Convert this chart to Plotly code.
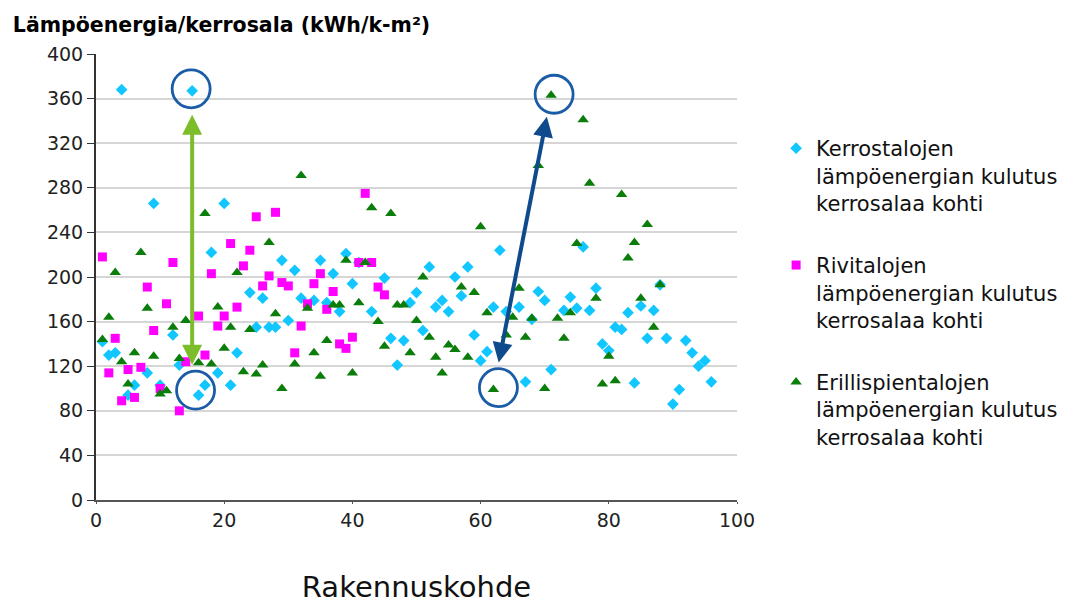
import plotly.graph_objects as go

# ---- data (building index -> heat energy per floor area, kWh/k-m2) ----
x_kerros = [1, 2, 3, 4, 5, 6, 8, 9, 10, 12, 13, 15, 16, 17, 18, 19, 20, 21, 22, 24,
            25, 26, 27, 28, 29, 30, 31, 32, 34, 35, 36, 37, 38, 39, 40, 41, 43, 45, 46, 47,
            48, 49, 50, 51, 52, 53, 54, 55, 56, 57, 58, 59, 60, 61, 62, 63, 64, 66, 67, 68,
            69, 70, 71, 73, 74, 75, 76, 77, 78, 79, 80, 81, 82, 83, 84, 85, 86, 87, 88, 89,
            90, 91, 92, 93, 94, 95, 96]
y_kerros = [142, 130, 132, 368, 94, 103, 114, 266, 103, 148, 121, 367, 94, 103, 222, 114, 266, 103, 132, 186,
            155, 181, 155, 155, 215, 161, 206, 181, 179, 215, 177, 203, 169, 221, 194, 213, 169, 199, 145, 121,
            143, 177, 186, 152, 209, 173, 179, 169, 200, 183, 209, 148, 125, 133, 173, 224, 169, 173, 106, 162,
            187, 179, 117, 170, 182, 172, 227, 170, 190, 140, 134, 155, 153, 168, 105, 174, 145, 170, 193, 145,
            86, 99, 143, 132, 120, 125, 106]

x_rivi = [1, 2, 3, 4, 5, 6, 7, 8, 9, 10, 11, 12, 13, 14, 16, 17, 18, 19, 20, 21,
          22, 23, 24, 25, 26, 27, 28, 29, 30, 31, 32, 33, 34, 35, 36, 37, 38, 39, 40, 41,
          42, 43, 44, 45]
y_rivi = [218, 114, 145, 89, 117, 92, 119, 191, 152, 100, 176, 213, 80, 124, 165, 130, 203, 156, 165, 230,
          173, 210, 224, 254, 192, 201, 258, 195, 192, 132, 156, 176, 194, 203, 171, 187, 140, 136, 146, 213,
          275, 213, 191, 184]

x_erillis = [1, 2, 3, 4, 5, 6, 7, 8, 9, 10, 11, 12, 13, 14, 16, 17, 18, 19, 20, 21,
             22, 23, 24, 25, 26, 27, 28, 29, 31, 32, 33, 34, 35, 36, 37, 38, 39, 40, 41, 42,
             43, 44, 45, 46, 47, 48, 49, 50, 51, 52, 53, 54, 55, 56, 57, 58, 59, 60, 61, 62,
             64, 65, 66, 67, 68, 69, 70, 71, 72, 73, 74, 75, 76, 77, 78, 79, 80, 81, 82, 83,
             84, 85, 86, 87, 88]
y_erillis = [144, 164, 204, 124, 104, 132, 222, 172, 129, 95, 98, 155, 127, 161, 123, 257, 122, 173, 136, 155,
             204, 115, 153, 113, 121, 231, 167, 100, 122, 291, 172, 132, 111, 143, 175, 175, 215, 114, 177, 213,
             262, 160, 138, 257, 175, 175, 132, 161, 200, 146, 128, 114, 139, 135, 191, 128, 186, 245, 168, 99,
             148, 164, 190, 146, 163, 300, 100, 363, 163, 145, 168, 230, 341, 284, 181, 104, 129, 107, 274, 217,
             231, 181, 247, 155, 193]

names = [
    "Kerrostalojen<br>lämpöenergian kulutus<br>kerrosalaa kohti",
    "Rivitalojen<br>lämpöenergian kulutus<br>kerrosalaa kohti",
    "Erillispientalojen<br>lämpöenergian kulutus<br>kerrosalaa kohti",
]
x_ticks = [0, 20, 40, 60, 80, 100]
y_ticks = [0, 40, 80, 120, 160, 200, 240, 280, 320, 360, 400]


def pick(xs, ys, xv):
    return xv, ys[xs.index(xv)]


FONT = "DejaVu Sans"

fig = go.Figure()
fig.add_trace(go.Scatter(x=x_kerros, y=y_kerros, mode="markers", name=names[0], legendgroup="a",
                         marker=dict(symbol="diamond", size=9, color="#12C6FF")))
fig.add_trace(go.Scatter(x=x_rivi, y=y_rivi, mode="markers", name=names[1], legendgroup="b",
                         marker=dict(symbol="square", size=9, color="#FF00FF")))
fig.add_trace(go.Scatter(x=x_erillis, y=y_erillis, mode="markers", name=names[2], legendgroup="c",
                         marker=dict(symbol="triangle-up", size=10, color="#0A7D0A")))

# highlighted points
k_top = pick(x_kerros, y_kerros, 15)
k_bot = pick(x_kerros, y_kerros, 16)
e_top = pick(x_erillis, y_erillis, 71)
e_bot = pick(x_erillis, y_erillis, 62)

circ_col = "#1A5CA6"
shapes = []
for (px, py), dx, dy in [(k_top, -1, 2), (k_bot, -3, 5), (e_top, 3, 1), (e_bot, 5, 2)]:
    shapes.append(dict(type="circle", xref="x", yref="y", xsizemode="pixel", ysizemode="pixel",
                       xanchor=px, yanchor=py, x0=dx - 19, x1=dx + 19, y0=dy - 19, y1=dy + 19,
                       line=dict(color=circ_col, width=2.8)))

annotations = [
    dict(x=k_top[0], y=k_top[1], ax=k_top[0], ay=k_bot[1], xref="x", yref="y", axref="x", ayref="y",
         text="", showarrow=True, arrowhead=2, startarrowhead=2, arrowside="end+start",
         arrowwidth=4, arrowsize=1, startarrowsize=1, arrowcolor="#7BBE2A",
         standoff=24, startstandoff=29),
    dict(x=e_top[0], y=e_top[1], ax=e_bot[0], ay=e_bot[1], xref="x", yref="y", axref="x", ayref="y",
         text="", showarrow=True, arrowhead=2, startarrowhead=2, arrowside="end+start",
         arrowwidth=4, arrowsize=1, startarrowsize=1, arrowcolor="#0F4B8C",
         standoff=22, startstandoff=26),
]

fig.update_layout(
    width=1069, height=604,
    margin=dict(l=96, r=332, t=54, b=104),
    paper_bgcolor="white", plot_bgcolor="white",
    title=dict(text="<b>Lämpöenergia/kerrosala (kWh/k-m²)</b>", xref="container", yref="container",
               x=0.012, xanchor="left", y=1 - 25 / 604, yanchor="middle",
               font=dict(family=FONT, size=20.5, color="#000000")),
    legend=dict(xref="container", yref="container", x=0.726, y=1 - 128 / 604,
                xanchor="left", yanchor="top", valign="top", tracegroupgap=32, maxheight=560,
                font=dict(family=FONT, size=21, color="#111111"), bgcolor="rgba(0,0,0,0)"),
    shapes=shapes,
    annotations=annotations,
    xaxis=dict(range=[0, 100], tickvals=x_ticks, showgrid=False, zeroline=False, automargin=False,
               showline=True, linecolor="#555555", linewidth=1.5,
               ticks="outside", ticklen=2, tickcolor="#555555",
               tickfont=dict(family=FONT, size=19, color="#222222"),
               title=dict(text="Rakennuskohde", standoff=52,
                          font=dict(family=FONT, size=29, color="#111111"))),
    yaxis=dict(range=[0, 400], tickvals=y_ticks, showgrid=True, gridcolor="#D6D6D6", gridwidth=2,
               zeroline=False, showline=True, linecolor="#333333", linewidth=2, automargin=False,
               ticks="outside", ticklen=7, tickcolor="#333333",
               tickfont=dict(family=FONT, size=19, color="#222222")),
    showlegend=True,
)

fig.write_html("out.html", config={"displayModeBar": False},
               post_script="document.body.style.margin='0';document.body.style.overflow='hidden';")
